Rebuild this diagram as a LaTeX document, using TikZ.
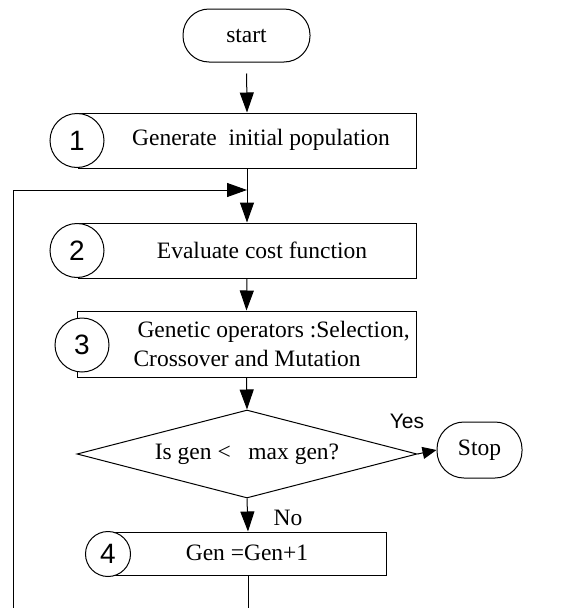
\documentclass[tikz,border=0pt]{standalone}
\usepackage{fontspec}
\setmainfont{Liberation Serif}
\newfontfamily\numfont{Liberation Sans}
\usetikzlibrary{arrows.meta,shapes.geometric}
\begin{document}
\begin{tikzpicture}[x=1pt,y=-1pt,
  line width=1pt,
  font=\fontsize{23.5}{28.2}\selectfont,
  box/.style={draw, rectangle, inner sep=0pt},
  term/.style={draw, rectangle, rounded corners=26pt, inner sep=0pt},
  circ/.style={draw, circle, fill=white, inner sep=0pt, font=\numfont\fontsize{28}{32}\selectfont},
  arr/.style={-{Triangle[length=20pt,width=14pt]}},
  sarr/.style={-{Triangle[length=14pt,width=12pt]}},
  lbl/.style={inner sep=0pt}
]
\useasboundingbox (0,0) rectangle (562,608);

% terminals
\node[term, minimum width=127pt, minimum height=53pt] (start) at (246.5,35.5) {start};
\node[term, minimum width=85pt, minimum height=56pt, rounded corners=27pt] (stop) at (479.5,450) {Stop};

% process boxes
\node[box, minimum width=338pt, minimum height=55pt] (b1) at (247,140.5) {};
\node[circ, minimum size=54pt] (c1) at (77,140.5) {1};
\node[lbl] (t1) at (261,140) {Generate\ \ initial population};

\node[box, minimum width=338pt, minimum height=55pt] (b2) at (247,250.5) {};
\node[circ, minimum size=54pt] (c2) at (77,250.5) {2};
\node[lbl] (t2) at (262,250) {Evaluate cost function};

\node[box, minimum width=339pt, minimum height=66pt] (b3) at (246.5,344) {};
\node[circ, minimum size=54pt] (c3) at (82,345) {3};
\node[lbl, align=left, anchor=west] (t3) at (133,344) {\hspace{4pt}Genetic operators :Selection,\\Crossover and Mutation};

% decision
\node[draw, diamond, aspect=3.86, inner sep=0pt, minimum width=340pt, minimum height=88pt] (d) at (247,454) {Is gen <\ \ \ max gen?};

\node[box, minimum width=276pt, minimum height=43pt] (b4) at (248,553.5) {};
\node[circ, minimum size=45pt] (c4) at (108,554) {4};
\node[lbl] (t4) at (247,553) {Gen =Gen+1};

% labels
\node[lbl, font=\numfont\fontsize{21}{25}\selectfont] (yes) at (407,421) {Yes};
\node[lbl] (no) at (288,518) {No};

% connectors
\coordinate (join) at (b1.south |- 0,190);
\coordinate (lt) at (13,190);
\coordinate (lb) at (13,608);
\coordinate (bb) at (b4.south |- 0,608);

\draw[arr, shorten <=11pt] (start.south) -- (b1.north);
\draw (b1.south) -- (join);
\draw[arr] (join) -- (b2.north);
\draw[arr] (lb) -- (lt) -- (join);
\draw[arr] (b2.south) -- (b3.north);
\draw[arr] (b3.south) -- (d.north);
\draw[sarr] (d.east) -- (stop.west);
\draw[arr] (d.south) -- (b4.north);
\draw (b4.south) -- (bb);
\end{tikzpicture}
\end{document}
